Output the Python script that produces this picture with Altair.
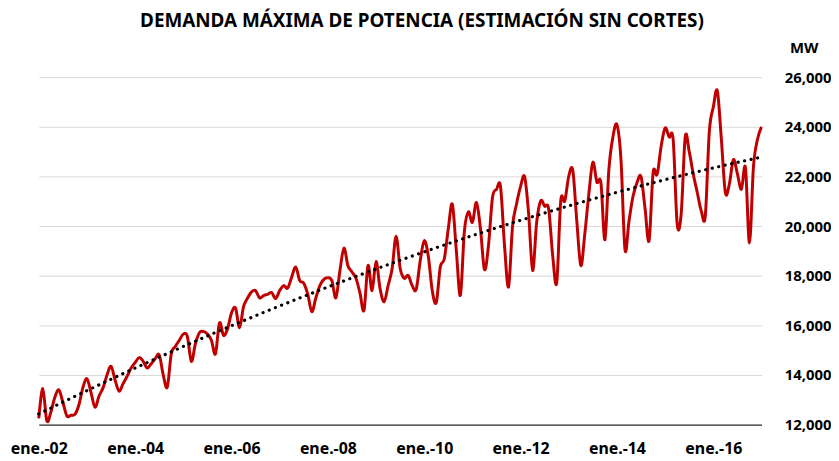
import altair as alt
import pandas as pd

TITLE = "DEMANDA MÁXIMA DE POTENCIA (ESTIMACIÓN SIN CORTES)"
UNIT = "MW"
START_YEAR = 2002

# Monthly maximum demand (MW), Jan of each year first
y2002 = [12250, 13450, 12150, 12500, 13100, 13400, 12900, 12350, 12380, 12410, 12800, 13500]
y2003 = [13850, 13300, 12700, 13150, 13480, 14000, 14350, 13800, 13350, 13650, 13950, 14280]
y2004 = [14500, 14700, 14550, 14280, 14450, 14650, 14810, 14000, 13510, 14850, 15150, 15400]
y2005 = [15650, 15550, 14550, 15250, 15700, 15750, 15650, 15400, 14850, 16100, 15600, 15850]
y2006 = [16500, 16700, 15900, 16750, 17100, 17350, 17400, 17100, 17200, 17250, 17320, 17080]
y2007 = [17400, 17600, 17500, 17950, 18350, 17800, 17700, 17250, 16550, 17100, 17600, 17850]
y2008 = [17920, 17800, 17110, 18200, 19110, 18400, 18150, 17900, 17300, 16610, 18410, 17400]
y2009 = [18570, 17480, 16950, 17600, 18280, 19590, 18300, 17900, 18010, 17600, 17450, 18600]
y2010 = [19410, 18800, 17400, 16920, 18350, 18680, 19900, 20880, 19000, 17210, 19800, 20570]
y2011 = [20150, 20950, 19900, 18250, 19210, 21150, 21480, 21590, 19200, 17550, 20000, 20900]
y2012 = [21600, 21990, 20500, 18210, 20150, 21010, 20800, 20680, 18800, 17720, 21010, 21010]
y2013 = [22010, 22240, 20200, 18410, 19700, 21300, 22570, 21770, 21750, 19450, 22300, 23600]
y2014 = [24080, 22680, 19050, 20200, 21200, 21750, 21990, 20700, 19410, 22150, 22080, 23210]
y2015 = [23950, 23590, 23480, 20080, 20500, 23590, 23000, 22100, 21350, 20610, 20410, 23800]
y2016 = [24800, 25450, 23500, 21350, 21700, 22680, 22100, 21480, 22350, 19320, 22400, 23500]
y2017 = [24000]

values = (y2002 + y2003 + y2004 + y2005 + y2006 + y2007 + y2008 + y2009 +
          y2010 + y2011 + y2012 + y2013 + y2014 + y2015 + y2016 + y2017)

# x tick positions: January of every second year (months since Jan 2002)
label_months = list(range(0, 169, 24))
y_ticks = list(range(12000, 26001, 2000))

df = pd.DataFrame({"mes": list(range(len(values))), "mw": values})

FONT = "Noto Sans"
W, H = 728, 350

x_enc = alt.X(
    "mes:Q",
    scale=alt.Scale(domain=[0, 180], nice=False, zero=False),
    axis=alt.Axis(
        values=label_months,
        labelExpr="'ene.-' + (datum.value < 96 ? '0' : '') + (2 + datum.value / 12)",
        title=None, grid=False, ticks=False, domain=True,
        domainColor="#000000", domainWidth=1,
        labelFont=FONT, labelFontSize=16, labelFontWeight="bold",
        labelColor="#000000", labelPadding=16, labelAngle=0,
        labelOverlap=False, labelFlush=False,
    ),
)
y_enc = alt.Y(
    "mw:Q",
    scale=alt.Scale(domain=[12000, 26000], nice=False, zero=False),
    axis=alt.Axis(
        orient="right", values=y_ticks, format=",.0f", title=None,
        grid=True, gridColor="#D9D9D9", gridWidth=1,
        domain=False, ticks=False,
        labelFont=FONT, labelFontSize=15, labelFontWeight="bold",
        labelColor="#000000", labelPadding=23,
    ),
)

base = alt.Chart(df)

line = base.mark_line(
    color="#C00000", strokeWidth=3, interpolate="cardinal"
).encode(x=x_enc, y=y_enc)

trend = base.transform_regression(
    "mes", "mw", method="quad"
).mark_line(
    color="#000000", strokeWidth=3.2, strokeDash=[0.1, 6.6], strokeCap="round"
).encode(x="mes:Q", y="mw:Q")

labels = pd.DataFrame({"t": [TITLE, UNIT], "kind": ["title", "unit"]})

title_txt = alt.Chart(labels).transform_filter(
    alt.datum.kind == "title"
).mark_text(
    font=FONT, fontSize=19, fontWeight="bold", color="#000000",
    align="center", baseline="alphabetic",
).encode(x=alt.value(386), y=alt.value(-51), text="t:N")

unit_txt = alt.Chart(labels).transform_filter(
    alt.datum.kind == "unit"
).mark_text(
    font=FONT, fontSize=15, fontWeight="bold", color="#000000",
    align="center", baseline="middle",
).encode(x=alt.value(771), y=alt.value(-29), text="t:N")

chart = alt.layer(line, trend, title_txt, unit_txt).properties(
    width=W, height=H,
    autosize=alt.AutoSizeParams(type="none"),
    padding={"left": 31, "top": 68, "right": 70, "bottom": 34},
).configure_view(stroke=None)

chart.save("out.html", embed_options={"renderer": "svg", "actions": False})
